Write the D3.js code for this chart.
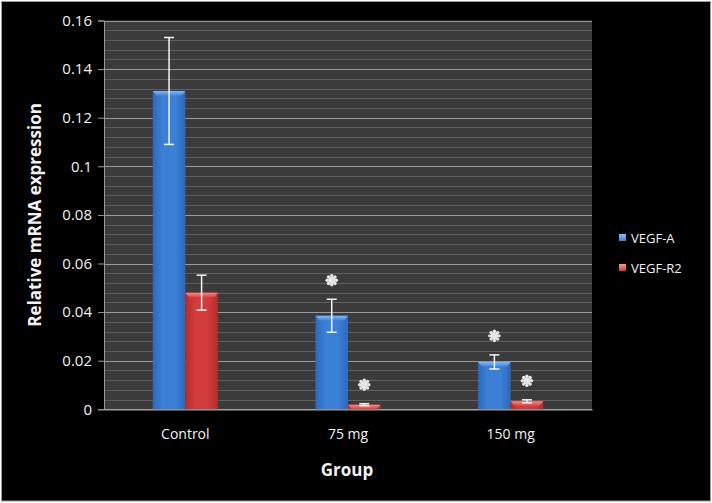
<!DOCTYPE html>
<html>
<head>
<meta charset="utf-8">
<script src="https://cdn.jsdelivr.net/npm/d3@7"></script>
<style>
  html, body { margin: 0; padding: 0; background: #ffffff; }
  svg { display: block; }
  text { font-family: "Open Sans", "Noto Sans", sans-serif; }
</style>
</head>
<body>
<svg id="chart" width="712" height="503"></svg>
<script>
// ---- data ----
const groups = ["Control", "75 mg", "150 mg"];
const seriesNames = ["VEGF-A", "VEGF-R2"];
const vegfA = [0.131, 0.0385, 0.0195];
const vegfAErr = [0.022, 0.0068, 0.0029];
const vegfR2 = [0.048, 0.0019, 0.0033];
const vegfR2Err = [0.0072, 0.0004, 0.0006];
const vegfASig = [false, true, true];
const vegfR2Sig = [false, true, true];
const yTicks = [0, 0.02, 0.04, 0.06, 0.08, 0.1, 0.12, 0.14, 0.16];
const yTickLabels = ["0", "0.02", "0.04", "0.06", "0.08", "0.1", "0.12", "0.14", "0.16"];
const minorTicks = d3.range(0, 0.1601, 0.004);

const svg = d3.select("#chart");
const m = { left: 104, right: 592, top: 20.5, bottom: 409.3 };

// background frame
svg.append("rect").attr("x", 1.5).attr("y", 1.5).attr("width", 709).attr("height", 499.5)
  .attr("fill", "#000").attr("stroke", "#9a9a9a").attr("stroke-width", 1);

const defs = svg.append("defs");
function barGrad(id, dark, mid) {
  const g = defs.append("linearGradient").attr("id", id).attr("x1", 0).attr("x2", 1).attr("y1", 0).attr("y2", 0);
  g.append("stop").attr("offset", "0%").attr("stop-color", dark);
  g.append("stop").attr("offset", "30%").attr("stop-color", mid);
  g.append("stop").attr("offset", "70%").attr("stop-color", mid);
  g.append("stop").attr("offset", "100%").attr("stop-color", dark);
}
barGrad("gBlue", "#2d69bd", "#3c7fd6");
barGrad("gRed", "#b52c2c", "#d23c3c");
function topGrad(id, c1, c2) {
  const g = defs.append("linearGradient").attr("id", id).attr("x1", 0).attr("x2", 0).attr("y1", 0).attr("y2", 1);
  g.append("stop").attr("offset", "0%").attr("stop-color", c1);
  g.append("stop").attr("offset", "100%").attr("stop-color", c2);
}
topGrad("tBlue", "#8fc0f5", "#3c7fd6");
topGrad("tRed", "#f49a9a", "#d23c3c");

const x0 = d3.scaleBand().domain(groups).range([m.left, m.right]).paddingInner(0).paddingOuter(0);
const x1 = d3.scaleBand().domain(seriesNames).range([0, x0.bandwidth()]).paddingInner(0).paddingOuter(1.5);
const y = d3.scaleLinear().domain([0, 0.16]).range([m.bottom, m.top]);

// plot background
svg.append("rect").attr("x", m.left).attr("y", m.top).attr("width", m.right - m.left)
  .attr("height", m.bottom - m.top).attr("fill", "#3b3b3b");

// minor gridlines
svg.append("g").selectAll("line").data(minorTicks).join("line")
  .attr("x1", m.left).attr("x2", m.right)
  .attr("y1", d => Math.round(y(d)) + 0.5).attr("y2", d => Math.round(y(d)) + 0.5)
  .attr("stroke", "#5f5f5f").attr("stroke-width", 1);
// major gridlines
svg.append("g").selectAll("line").data(yTicks).join("line")
  .attr("x1", m.left).attr("x2", m.right)
  .attr("y1", d => Math.round(y(d)) + 0.5).attr("y2", d => Math.round(y(d)) + 0.5)
  .attr("stroke", "#9a9a9a").attr("stroke-width", 1.2);

// y axis
const yAxis = d3.axisLeft(y).tickValues(yTicks).tickFormat((d, i) => yTickLabels[i]).tickSize(6).tickPadding(6);
const ya = svg.append("g").attr("transform", `translate(${m.left},0)`).call(yAxis);
ya.select(".domain").attr("stroke", "#9a9a9a");
ya.selectAll(".tick line").attr("stroke", "#9a9a9a");
ya.selectAll(".tick text").attr("fill", "#f2f2f2").attr("font-size", 15).attr("font-family", "Open Sans, sans-serif");

// x axis
const xAxis = d3.axisBottom(x0).tickSize(0).tickPadding(20);
const xa = svg.append("g").attr("transform", `translate(0,${m.bottom})`).call(xAxis);
xa.select(".domain").attr("stroke", "#a0a0a0").attr("stroke-width", 1.5);
xa.selectAll(".tick text").attr("fill", "#f2f2f2").attr("font-size", 14).attr("font-family", "Open Sans, sans-serif");

// bars
const seriesVals = [vegfA, vegfR2];
const seriesErr = [vegfAErr, vegfR2Err];
const seriesSig = [vegfASig, vegfR2Sig];
const fills = ["url(#gBlue)", "url(#gRed)"];
const tops = ["url(#tBlue)", "url(#tRed)"];
const bars = [];
groups.forEach((g, gi) => {
  seriesNames.forEach((s, si) => {
    bars.push({ g, s, si, v: seriesVals[si][gi], e: seriesErr[si][gi], sig: seriesSig[si][gi] });
  });
});
const bw = x1.bandwidth();
const barG = svg.append("g");
barG.selectAll("rect.bar").data(bars).join("rect").attr("class", "bar")
  .attr("x", d => x0(d.g) + x1(d.s)).attr("width", bw)
  .attr("y", d => y(d.v)).attr("height", d => y(0) - y(d.v))
  .attr("fill", (d) => fills[d.si]);
// top bevel highlight
barG.selectAll("path.bevel").data(bars).join("path").attr("class", "bevel")
  .attr("d", d => {
    const xL = x0(d.g) + x1(d.s), xR = xL + bw, yt = y(d.v);
    const h = Math.min(5, y(0) - yt);
    return `M${xL},${yt}L${xR},${yt}L${xR - 4},${yt + h}L${xL + 4},${yt + h}Z`;
  })
  .attr("fill", d => tops[d.si]).attr("opacity", 0.9);

// error bars
const eb = svg.append("g").attr("stroke", "#f4f4f4").attr("stroke-width", 1.5);
bars.forEach(d => {
  const cx = x0(d.g) + x1(d.s) + bw / 2;
  const yt = y(d.v + d.e), yb = y(d.v - d.e);
  eb.append("line").attr("x1", cx).attr("x2", cx).attr("y1", yt).attr("y2", yb);
  eb.append("line").attr("x1", cx - 5).attr("x2", cx + 5).attr("y1", yt).attr("y2", yt);
  eb.append("line").attr("x1", cx - 5).attr("x2", cx + 5).attr("y1", yb).attr("y2", yb);
});

// significance asterisks (flower shape)
const sigG = svg.append("g");
bars.filter(d => d.sig).forEach(d => {
  const cx = x0(d.g) + x1(d.s) + bw / 2;
  const cy = y(d.v + d.e) - 19;
  const f = sigG.append("g").attr("transform", `translate(${cx},${cy})`).attr("fill", "#e6e6e6");
  d3.range(8).forEach(k => {
    const a = k * Math.PI / 4;
    f.append("circle").attr("cx", 4.6 * Math.cos(a)).attr("cy", 4.6 * Math.sin(a)).attr("r", 1.7);
  });
  f.append("circle").attr("r", 3.6);
});

// axis titles
svg.append("text").attr("transform", `translate(41,${(m.top + m.bottom) / 2}) rotate(-90)`)
  .attr("text-anchor", "middle").attr("fill", "#f2f2f2").attr("font-weight", "bold")
  .attr("font-size", 17).text("Relative mRNA expression");
svg.append("text").attr("x", (m.left + m.right) / 2 - 1).attr("y", 476)
  .attr("text-anchor", "middle").attr("fill", "#f2f2f2").attr("font-weight", "bold")
  .attr("font-size", 17).text("Group");

// legend
const leg = svg.append("g");
seriesNames.forEach((s, i) => {
  const ly = 239 + i * 30;
  leg.append("rect").attr("x", 619).attr("y", ly - 5).attr("width", 7).attr("height", 7)
    .attr("fill", i === 0 ? "url(#tBlue)" : "url(#tRed)");
  leg.append("text").attr("x", 631).attr("y", ly + 4).attr("fill", "#f2f2f2")
    .attr("font-size", 13).text(s);
});
</script>
</body>
</html>
